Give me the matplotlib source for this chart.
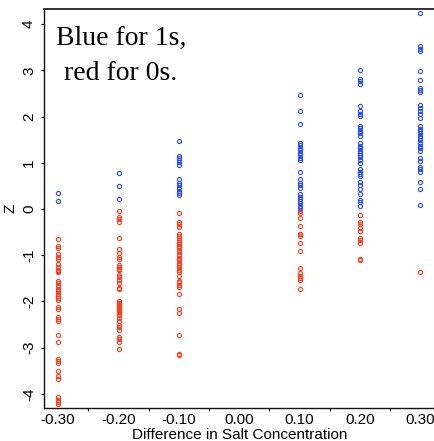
import matplotlib
matplotlib.use("Agg")
import matplotlib.pyplot as plt
import numpy as np

# ---- data ----
x_levels = [-0.30, -0.20, -0.10, 0.10, 0.20, 0.30]

blue_m30 = [0.34, 0.17]
blue_m20 = [0.79, 0.50, 0.22]
blue_m10 = [1.47, 1.15, 1.11, 1.06, 1.01, 0.95, 0.65, 0.57, 0.52, 0.46, 0.39, 0.34, 0.30]
blue_p10 = [2.47, 2.12, 1.83, 1.43, 1.39, 1.33, 1.28, 1.22, 1.16, 1.11, 1.06, 0.81,
            0.64, 0.57, 0.53, 0.46, 0.32, 0.27, 0.22, 0.17, 0.12, 0.06, 0.02]
blue_p20 = [3.00, 2.82, 2.77, 2.71, 2.23, 2.12, 2.06, 2.01, 1.80, 1.75, 1.70, 1.65,
            1.59, 1.43, 1.37, 1.33, 1.26, 1.21, 1.16, 1.12, 1.06, 0.99, 0.86, 0.81,
            0.76, 0.71, 0.59, 0.53, 0.43, 0.32, 0.20, 0.15, 0.07]
blue_p30 = [4.24, 3.52, 3.47, 3.42, 2.98, 2.80, 2.62, 2.57, 2.53, 2.25, 2.19, 2.13,
            2.06, 1.98, 1.79, 1.74, 1.69, 1.64, 1.59, 1.54, 1.49, 1.43, 1.37, 1.33,
            1.26, 1.10, 1.05, 0.91, 0.86, 0.81, 0.59, 0.44, 0.08]

red_m30 = [-0.64, -0.79, -0.85, -0.97, -1.03, -1.09, -1.20, -1.25, -1.33, -1.35, -1.37,
           -1.55, -1.60, -1.67, -1.72, -1.77, -1.83, -1.88, -1.93, -1.96, -2.12, -2.17,
           -2.34, -2.38, -2.43, -2.72, -2.88, -3.24, -3.28, -3.33, -3.51, -3.62, -3.68,
           -4.07, -4.13, -4.18, -4.22]
red_m20 = [-0.05, -0.17, -0.22, -0.27, -0.62, -0.87, -0.96, -1.03, -1.09, -1.21, -1.25,
           -1.29, -1.33, -1.42, -1.47, -1.54, -1.60, -1.70, -1.73, -2.00, -2.03, -2.06,
           -2.09, -2.12, -2.16, -2.19, -2.23, -2.27, -2.30, -2.36, -2.43, -2.50, -2.56,
           -2.61, -2.77, -2.82, -2.88, -3.02]
red_m10 = [-0.08, -0.28, -0.33, -0.38, -0.55, -0.58, -0.62, -0.67, -0.72, -0.76, -0.80,
           -0.83, -0.89, -0.94, -1.00, -1.05, -1.11, -1.16, -1.21, -1.26, -1.32, -1.37,
           -1.44, -1.56, -1.59, -1.64, -1.68, -1.83, -2.16, -2.26, -2.72, -3.14, -3.17]
red_p10 = [-0.04, -0.08, -0.19, -0.37, -0.53, -0.55, -0.58, -0.74, -0.90, -1.28, -1.39,
           -1.45, -1.50, -1.53, -1.73]
red_p20 = [-0.12, -0.27, -0.32, -0.42, -0.47, -0.63, -0.68, -0.73, -1.08, -1.10]
red_p30 = [-1.36]

blue_groups = [blue_m30, blue_m20, blue_m10, blue_p10, blue_p20, blue_p30]
red_groups = [red_m30, red_m20, red_m10, red_p10, red_p20, red_p30]

x_ticks = [-0.30, -0.20, -0.10, 0.00, 0.10, 0.20, 0.30]
x_ticklabels = ["-0.30", "-0.20", "-0.10", "0.00", "0.10", "0.20", "0.30"]
x_minor = [-0.25, -0.15, -0.05, 0.05, 0.15, 0.25]
y_ticks = [-4, -3, -2, -1, 0, 1, 2, 3, 4]

BLUE = "#2a4bff"
RED = "#ff3b1c"

plt.rcParams['font.family'] = ['Liberation Sans', 'DejaVu Sans']

fig = plt.figure(figsize=(4.35, 4.41), dpi=100)
ax = fig.add_axes([44.3 / 435, 1 - 407.7 / 441, 390 / 435, 398.7 / 441])

for xv, ys in zip(x_levels, red_groups):
    ax.plot([xv] * len(ys), ys, linestyle="none", marker="o", ms=3.0,
            mfc="none", mec=RED, mew=0.8)
for xv, ys in zip(x_levels, blue_groups):
    ax.plot([xv] * len(ys), ys, linestyle="none", marker="o", ms=3.0,
            mfc="none", mec=BLUE, mew=0.8)

ax.set_xlim(-0.323, 0.323)
ax.set_ylim(-4.30, 4.33)

ax.set_xticks(x_ticks)
ax.set_xticklabels(x_ticklabels, fontsize=11)
ax.set_xticks(x_minor, minor=True)
ax.tick_params(axis="x", which="major", length=0, pad=3.5)
ax.tick_params(axis="x", which="minor", length=2.5, width=0.8, direction="out")

ax.set_yticks(y_ticks)
ax.set_yticklabels([str(v) for v in y_ticks], fontsize=11, rotation=90, va="center")
ax.tick_params(axis="y", which="major", length=2.5, width=0.8, direction="out", pad=3.5)

ax.set_xlabel("Difference in Salt Concentration", fontsize=11, labelpad=0.8)
ax.set_ylabel("Z", fontsize=11, labelpad=3)

for side in ["left", "bottom"]:
    ax.spines[side].set_linewidth(1.0)
    ax.spines[side].set_color("#111111")
ax.spines["top"].set_linewidth(1.3)
ax.spines["top"].set_color("#222222")
ax.spines["right"].set_linewidth(0.8)
ax.spines["right"].set_color("#b0b0b0")

ax.text(0.196, 0.957, "Blue for 1s,\nred for 0s.", transform=ax.transAxes,
        ha="center", va="top", multialignment="center", fontsize=20,
        family=["Liberation Serif", "DejaVu Serif"], linespacing=1.5)

fig.savefig("out.png", dpi=100)
